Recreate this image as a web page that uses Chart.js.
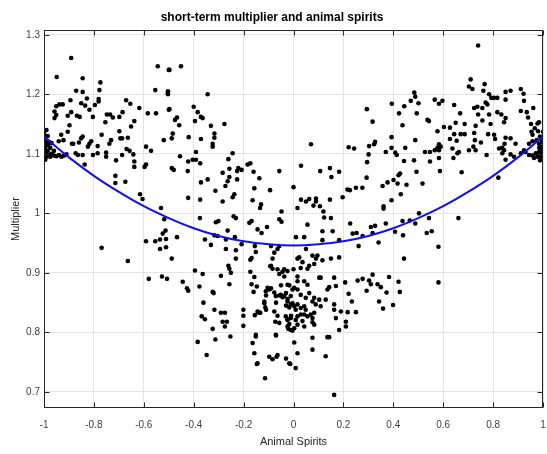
<!DOCTYPE html>
<html>
<head>
<meta charset="utf-8">
<script src="https://cdn.jsdelivr.net/npm/chart.js@4"></script>
<style>
  body { margin: 0; background: #fff; }
  #wrap { width: 547px; height: 454px; }
</style>
</head>
<body>
<div id="wrap"><canvas id="spirits"></canvas></div>
<script>
// scatter values [animal spirits, multiplier], grouped by region of the plot
const leftEdge = [[-1.0,1.135],[-0.995,1.13],[-1.0,1.125],[-0.99,1.12],[-1.0,1.115],[-0.995,1.11],[-1.0,1.105],[-0.99,1.10],[-1.0,1.095],[-0.995,1.09],[-0.985,1.105],[-0.98,1.098],[-0.975,1.095],[-0.97,1.10],[-0.96,1.097],[-0.95,1.096],[-0.94,1.098],[-0.93,1.095],[-0.92,1.097],[-0.91,1.099],[-0.985,1.115],[-0.98,1.12],[-0.99,1.14],[-0.985,1.13],[-0.975,1.11],[-0.97,1.118],[-0.96,1.105],[-1.0,1.1],[-0.995,1.12],[-0.99,1.095],[-0.931,1.132],[-0.883,1.117],[-0.845,1.129]];

const leftWing = [[-0.891,1.261],[-0.949,1.229],[-0.845,1.227],[-0.774,1.220],[-0.544,1.247],[-0.500,1.241],[-0.554,1.207],[-0.778,1.207],[-0.871,1.206],[-0.845,1.204],[-0.504,1.202],[-0.894,1.19],[-0.828,1.193],[-0.851,1.185],[-0.835,1.181],[-0.781,1.192],[-0.781,1.188],[-0.796,1.182],[-0.938,1.183],[-0.925,1.183],[-0.951,1.18],[-0.818,1.174],[-0.671,1.19],[-0.654,1.184],[-0.618,1.177],[-0.584,1.168],[-0.551,1.168],[-0.5,1.174],[-0.958,1.171],[-0.951,1.165],[-0.958,1.16],[-0.905,1.164],[-0.891,1.170],[-0.868,1.164],[-0.857,1.162],[-0.804,1.162],[-0.748,1.166],[-0.735,1.166],[-0.724,1.161],[-0.698,1.162],[-0.685,1.170],[-0.638,1.155],[-0.754,1.153],[-0.898,1.148],[-0.651,1.146],[-0.520,1.123],[-0.905,1.137],[-0.698,1.138],[-0.769,1.132],[-0.694,1.126],[-0.687,1.126],[-0.664,1.127],[-0.851,1.126],[-0.922,1.123],[-0.941,1.121],[-0.811,1.121],[-0.818,1.117],[-0.731,1.123],[-0.738,1.117],[-0.888,1.117],[-0.860,1.119],[-0.824,1.112],[-0.785,1.113],[-0.591,1.112],[-0.669,1.108],[-0.657,1.105],[-0.571,1.105],[-0.873,1.101],[-0.864,1.098],[-0.845,1.098],[-0.804,1.098],[-0.785,1.101],[-0.751,1.102],[-0.751,1.095],[-0.687,1.098],[-0.642,1.099],[-0.638,1.087],[-0.638,1.078],[-0.711,1.089],[-0.837,1.082],[-0.597,1.078],[-0.591,1.082],[-0.714,1.063],[-0.714,1.051],[-0.674,1.053],[-0.615,1.032],[-0.605,1.024],[-0.531,1.009],[-0.518,0.990],[-0.769,0.942],[-0.664,0.920],[-0.591,0.953],[-0.554,0.953],[-0.535,0.956],[-0.511,0.957],[-0.524,0.966],[-0.513,0.971],[-0.535,0.940],[-0.511,0.943],[-0.580,0.890],[-0.527,0.894],[-0.507,0.890]];

const midLeft = [[-0.497,1.241],[-0.451,1.247],[-0.503,1.205],[-0.503,1.200],[-0.344,1.200],[-0.497,1.175],[-0.400,1.179],[-0.384,1.170],[-0.371,1.162],[-0.364,1.160],[-0.395,1.155],[-0.467,1.161],[-0.475,1.157],[-0.458,1.148],[-0.331,1.147],[-0.277,1.150],[-0.317,1.134],[-0.317,1.127],[-0.324,1.117],[-0.324,1.112],[-0.484,1.134],[-0.488,1.126],[-0.420,1.128],[-0.371,1.125],[-0.391,1.103],[-0.455,1.096],[-0.404,1.090],[-0.391,1.090],[-0.422,1.087],[-0.374,1.084],[-0.244,1.101],[-0.261,1.091],[-0.488,1.076],[-0.480,1.073],[-0.424,1.071],[-0.284,1.068],[-0.257,1.075],[-0.221,1.076],[-0.208,1.073],[-0.226,1.071],[-0.184,1.082],[-0.173,1.084],[-0.160,1.070],[-0.137,1.059],[-0.057,1.071],[-0.257,1.061],[-0.264,1.054],[-0.226,1.057],[-0.273,1.046],[-0.371,1.052],[-0.344,1.057],[-0.313,1.038],[-0.157,1.042],[-0.094,1.039],[0.0,1.044],[-0.422,1.026],[-0.374,1.023],[-0.284,1.020],[-0.244,1.027],[-0.237,1.032],[-0.164,1.022],[-0.130,1.015],[-0.134,1.009],[-0.048,1.003],[-0.375,0.992],[-0.24,0.995],[-0.231,0.992],[-0.057,0.990],[-0.048,0.986],[-0.467,0.960],[-0.488,0.924],[-0.311,0.985],[-0.301,0.987],[-0.264,0.971],[-0.317,0.963],[-0.304,0.962],[-0.355,0.956],[-0.331,0.947],[-0.271,0.956],[-0.271,0.940],[-0.235,0.960],[-0.231,0.938],[-0.231,0.924],[-0.208,0.948],[-0.177,0.984],[-0.168,0.987],[-0.144,0.973],[-0.128,0.967],[-0.106,0.977],[-0.155,0.945],[-0.151,0.935],[-0.168,0.925],[-0.173,0.922],[-0.090,0.945],[-0.077,0.934],[-0.084,0.924],[-0.090,0.912],[-0.064,0.940],[-0.057,0.945],[-0.261,0.912],[-0.257,0.907],[-0.251,0.900],[-0.257,0.881],[-0.291,0.895],[-0.364,0.898],[-0.395,0.904],[-0.444,0.885],[-0.427,0.874],[-0.422,0.870],[-0.377,0.877],[-0.324,0.868],[-0.320,0.866],[-0.361,0.850],[-0.368,0.827],[-0.355,0.822],[-0.317,0.838],[-0.291,0.833],[-0.275,0.833],[-0.284,0.818],[-0.267,0.818],[-0.275,0.810],[-0.324,0.806],[-0.313,0.788],[-0.384,0.784],[-0.348,0.762],[-0.253,0.793],[-0.201,0.838],[-0.201,0.828],[-0.201,0.811],[-0.173,0.902],[-0.168,0.881],[-0.160,0.868],[-0.157,0.893],[-0.147,0.877],[-0.155,0.829],[-0.141,0.834],[-0.133,0.833],[-0.151,0.793],[-0.164,0.782],[-0.157,0.765],[-0.147,0.747],[-0.114,0.723]];

const centre = [[-0.110,0.862],[-0.117,0.852],[-0.113,0.842],[-0.110,0.838],[-0.097,0.872],[-0.090,0.874],[-0.077,0.867],[-0.070,0.850],[-0.064,0.828],[-0.073,0.818],[-0.057,0.816],[-0.097,0.759],[-0.084,0.755],[-0.068,0.759],[-0.070,0.795],[-0.030,0.756],[-0.013,0.747],[-0.093,0.911],[-0.084,0.907],[-0.064,0.906],[-0.057,0.898],[-0.044,0.902],[-0.037,0.894],[-0.050,0.879],[-0.057,0.862],[-0.044,0.859],[-0.030,0.866],[-0.017,0.879],[-0.024,0.856],[-0.004,0.872],[-0.030,0.845],[-0.017,0.842],[-0.010,0.828],[-0.024,0.822],[-0.017,0.814],[-0.004,0.803],[-0.021,0.806],[0.003,0.783],[-0.011,0.847],[-0.024,0.852],[-0.004,0.849],[-0.024,0.821],[-0.011,0.824],[-0.011,0.804],[-0.024,0.810],[-0.037,0.861],[-0.051,0.863],[-0.071,0.861],[-0.104,0.875],[-0.111,0.869],[-0.117,0.849],[-0.031,0.827],[-0.077,0.835],[-0.144,0.835],[-0.137,0.833],[-0.064,0.762],[-0.017,0.748],[-0.151,0.796],[-0.071,0.796],[-0.144,0.748],[-0.024,0.903],[-0.037,0.906],[-0.024,0.880],[-0.011,0.861],[0.010,0.960],[0.043,0.960],[0.116,0.955],[0.183,0.955],[0.016,0.924],[0.023,0.926],[0.036,0.918],[0.056,0.907],[0.050,0.940],[0.076,0.929],[0.090,0.924],[0.096,0.929],[0.116,0.921],[0.150,0.924],[0.183,0.926],[0.063,0.912],[0.083,0.915],[0.0,0.906],[0.016,0.894],[0.029,0.908],[0.016,0.886],[0.043,0.886],[0.056,0.880],[0.003,0.875],[0.103,0.892],[0.109,0.892],[0.163,0.892],[0.170,0.878],[0.143,0.876],[0.136,0.872],[0.016,0.872],[0.029,0.863],[0.049,0.858],[0.063,0.866],[0.083,0.858],[0.076,0.852],[0.089,0.847],[0.103,0.855],[0.129,0.855],[0.163,0.847],[0.003,0.844],[0.016,0.847],[0.029,0.841],[0.043,0.844],[0.049,0.838],[0.009,0.838],[0.009,0.821],[0.016,0.827],[0.029,0.830],[0.043,0.830],[0.056,0.827],[0.069,0.830],[0.076,0.824],[0.083,0.833],[0.003,0.807],[0.016,0.813],[0.036,0.819],[0.043,0.810],[0.076,0.817],[0.083,0.813],[0.109,0.844],[0.163,0.838],[0.170,0.824],[0.190,0.835],[0.016,0.765],[0.076,0.771],[0.076,0.791],[0.136,0.792],[0.143,0.792],[0.183,0.804],[0.009,0.740],[0.129,0.760],[0.163,0.695]];

const midRight = [[0.056,0.981],[0.116,0.970],[0.157,0.970],[0.227,0.983],[0.237,0.966],[0.253,0.967],[0.277,0.962],[0.261,0.945],[0.310,0.977],[0.327,0.979],[0.317,0.967],[0.341,0.951],[0.370,0.983],[0.407,0.969],[0.437,0.987],[0.439,0.963],[0.466,0.988],[0.488,0.983],[0.443,0.924],[0.207,0.884],[0.221,0.865],[0.234,0.852],[0.250,0.834],[0.217,0.834],[0.257,0.887],[0.277,0.890],[0.303,0.887],[0.317,0.897],[0.310,0.881],[0.293,0.870],[0.337,0.881],[0.350,0.876],[0.373,0.867],[0.383,0.893],[0.421,0.885],[0.426,0.868],[0.343,0.852],[0.359,0.840],[0.399,0.846],[0.210,0.818],[0.210,0.810],[0.294,1.175],[0.317,1.154],[0.394,1.184],[0.423,1.168],[0.444,1.180],[0.437,1.148],[0.470,1.189],[0.484,1.203],[0.488,1.196],[0.501,1.185],[0.494,1.168],[0.070,1.116],[0.221,1.111],[0.243,1.109],[0.303,1.113],[0.301,1.099],[0.295,1.086],[0.293,1.060],[0.327,1.120],[0.323,1.116],[0.370,1.103],[0.393,1.128],[0.393,1.110],[0.408,1.102],[0.414,1.098],[0.448,1.110],[0.443,1.088],[0.483,1.089],[0.488,1.123],[0.493,1.070],[0.030,1.080],[0.107,1.071],[0.146,1.076],[0.152,1.061],[0.183,1.070],[0.216,1.040],[0.226,1.039],[0.250,1.043],[0.276,1.043],[0.197,1.027],[0.357,1.046],[0.377,1.052],[0.401,1.056],[0.417,1.050],[0.421,1.064],[0.427,1.067],[0.453,1.048],[0.430,1.032],[0.393,1.022],[0.361,1.012],[0.361,1.008],[0.030,1.023],[0.050,1.020],[0.063,1.024],[0.090,1.025],[0.090,1.020],[0.016,1.009],[0.080,1.013],[0.106,1.012],[0.120,1.003],[0.146,1.023],[0.123,0.993],[0.150,0.992]];

const rightWing = [[0.740,1.282],[0.710,1.225],[0.703,1.213],[0.717,1.209],[0.766,1.217],[0.761,1.206],[0.784,1.200],[0.793,1.194],[0.804,1.194],[0.817,1.194],[0.850,1.204],[0.870,1.206],[0.850,1.191],[0.911,1.209],[0.922,1.201],[0.924,1.189],[0.566,1.191],[0.583,1.184],[0.597,1.189],[0.644,1.182],[0.724,1.177],[0.737,1.179],[0.740,1.166],[0.757,1.177],[0.770,1.186],[0.777,1.183],[0.784,1.166],[0.668,1.168],[0.817,1.170],[0.833,1.166],[0.844,1.153],[0.850,1.160],[0.911,1.172],[0.935,1.170],[0.940,1.161],[0.961,1.177],[0.537,1.157],[0.543,1.155],[0.650,1.152],[0.686,1.150],[0.730,1.147],[0.757,1.156],[0.790,1.150],[0.603,1.145],[0.627,1.144],[0.577,1.138],[0.724,1.135],[0.644,1.133],[0.670,1.133],[0.686,1.133],[0.780,1.133],[0.804,1.132],[0.808,1.125],[0.627,1.125],[0.654,1.122],[0.727,1.123],[0.751,1.119],[0.850,1.127],[0.870,1.126],[0.846,1.117],[0.890,1.117],[0.583,1.116],[0.590,1.112],[0.577,1.110],[0.583,1.106],[0.566,1.106],[0.547,1.103],[0.527,1.103],[0.637,1.109],[0.657,1.101],[0.663,1.103],[0.703,1.106],[0.721,1.112],[0.730,1.106],[0.824,1.109],[0.837,1.110],[0.844,1.106],[0.837,1.101],[0.774,1.098],[0.870,1.099],[0.884,1.095],[0.641,1.093],[0.583,1.093],[0.547,1.087],[0.850,1.090],[0.587,1.071],[0.674,1.069],[0.517,1.050],[0.821,1.060],[0.503,1.000],[0.543,0.992],[0.661,0.992],[0.534,0.967],[0.554,0.970],[0.581,0.944],[0.581,0.884]];

const rightEdge = [[0.952,1.150],[0.954,1.137],[0.958,1.132],[0.967,1.143],[0.978,1.151],[0.984,1.153],[0.980,1.138],[0.988,1.129],[0.944,1.117],[0.958,1.121],[0.975,1.123],[0.984,1.117],[0.991,1.112],[0.997,1.106],[0.984,1.103],[1.0,1.098],[0.924,1.106],[0.930,1.103],[0.911,1.101],[0.944,1.098],[0.958,1.097],[0.964,1.093],[0.977,1.095],[0.991,1.095],[1.0,1.095],[0.988,1.089],[0.971,1.101],[0.997,1.123],[1.0,1.137],[1.0,1.11],[0.995,1.12],[1.0,1.105],[0.99,1.10],[0.985,1.11]];

// fitted curve
const curveX = [-1,-0.9,-0.8,-0.7,-0.6,-0.5,-0.4,-0.3,-0.2,-0.1,0,0.1,0.2,0.3,0.4,0.5,0.6,0.7,0.8,0.9,1];
const curveY = [1.129,1.094,1.063,1.036,1.012,0.992,0.975,0.962,0.953,0.948,0.946,0.948,0.953,0.962,0.975,0.992,1.012,1.036,1.063,1.094,1.129];

const xTicks = [-1,-0.8,-0.6,-0.4,-0.2,0,0.2,0.4,0.6,0.8,1];
const xTickLabels = ['-1','-0.8','-0.6','-0.4','-0.2','0','0.2','0.4','0.6','0.8','1'];
const yTicks = [0.7,0.8,0.9,1,1.1,1.2,1.3];
const yTickLabels = ['0.7','0.8','0.9','1','1.1','1.2','1.3'];

const allPoints = [].concat(leftEdge, leftWing, midLeft, centre, midRight, rightWing, rightEdge)
  .map(p => ({x: p[0], y: p[1]}));
const curvePoints = curveX.map((v, i) => ({x: v, y: curveY[i]}));

const fam = "'Liberation Sans', Arial, sans-serif";
const axisInk = '#262626';

// MATLAB style box with inward tick marks on all four sides
const matlabBox = {
  id: 'matlabBox',
  afterDatasetsDraw(chart) {
    const {ctx, chartArea: a, scales: {x, y}} = chart;
    const L = Math.round(a.left) + 0.5, R = Math.round(a.right) - 0.5;
    const T = Math.round(a.top) + 0.5, B = Math.round(a.bottom) - 0.5;
    ctx.save();
    ctx.strokeStyle = axisInk;
    ctx.lineWidth = 1;
    ctx.strokeRect(L, T, R - L, B - T);
    ctx.beginPath();
    xTicks.forEach(v => {
      const px = Math.round(x.getPixelForValue(v)) + 0.5;
      ctx.moveTo(px, B); ctx.lineTo(px, B - 5);
      ctx.moveTo(px, T); ctx.lineTo(px, T + 5);
    });
    yTicks.forEach(v => {
      const py = Math.round(y.getPixelForValue(v)) + 0.5;
      ctx.moveTo(L, py); ctx.lineTo(L + 5, py);
      ctx.moveTo(R, py); ctx.lineTo(R - 5, py);
    });
    ctx.stroke();
    ctx.restore();
  }
};

new Chart(document.getElementById('spirits').getContext('2d'), {
  type: 'scatter',
  data: {
    datasets: [{
      label: 'fit',
      data: curvePoints,
      showLine: true,
      borderColor: '#0f0fff',
      borderWidth: 2,
      pointRadius: 0,
      tension: 0.4,
      order: 0
    }, {
      label: 'observations',
      data: allPoints,
      backgroundColor: '#000',
      borderColor: '#000',
      borderWidth: 0,
      pointRadius: 2.3,
      order: 1
    }]
  },
  options: {
    responsive: true,
    maintainAspectRatio: false,
    animation: false,
    layout: { padding: { left: 0, right: 3, top: 0, bottom: 0 } },
    plugins: {
      legend: { display: false },
      tooltip: { enabled: false },
      title: {
        display: true,
        text: 'short-term multiplier and animal spirits',
        color: '#000',
        font: { family: fam, size: 12, weight: 'bold' },
        padding: { top: 10, bottom: 5.6 }
      }
    },
    scales: {
      x: {
        type: 'linear',
        min: -1,
        max: 1,
        afterBuildTicks: s => { s.ticks = xTicks.map(v => ({value: v})); },
        afterFit: s => { s.height = 46; s.paddingLeft = 0; s.paddingRight = 0; },
        ticks: {
          callback: (v, i) => xTickLabels[i],
          color: '#404040',
          font: { family: fam, size: 10 },
          padding: 11,
          maxRotation: 0,
          autoSkip: false
        },
        grid: { color: '#e3e3e3', drawTicks: false },
        border: { display: false },
        title: {
          display: true,
          text: 'Animal Spirits',
          color: axisInk,
          font: { family: fam, size: 11 },
          padding: { top: 0, bottom: 5 }
        }
      },
      y: {
        min: 0.673,
        max: 1.308,
        afterBuildTicks: s => { s.ticks = yTicks.map(v => ({value: v})); },
        afterFit: s => { s.width = 44; s.paddingTop = 0; s.paddingBottom = 0; },
        ticks: {
          callback: (v, i) => yTickLabels[i],
          color: '#404040',
          font: { family: fam, size: 10 },
          padding: 4,
          autoSkip: false
        },
        grid: { color: '#e3e3e3', drawTicks: false },
        border: { display: false },
        title: {
          display: true,
          text: 'Multiplier',
          color: axisInk,
          font: { family: fam, size: 11 },
          padding: { top: 9, bottom: 0 }
        }
      }
    }
  },
  plugins: [matlabBox]
});
</script>
</body>
</html>
